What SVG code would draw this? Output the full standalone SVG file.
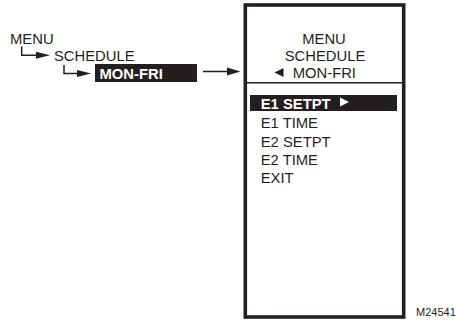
<svg xmlns="http://www.w3.org/2000/svg" width="458" height="322" viewBox="0 0 458 322">
<style>
.t{font-family:"Liberation Sans",Arial,sans-serif;font-size:14.8px;fill:#231f20}
.b{font-family:"Liberation Sans",Arial,sans-serif;font-size:14.8px;font-weight:bold;fill:#fff}
.ln{stroke:#231f20;stroke-width:1.5;fill:none}
.ah{fill:#231f20;stroke:none}
</style>
<rect width="458" height="322" fill="#fff"/>
<g id="nav-menu"><text class="t" x="10" y="43.5">MENU</text></g>
<g id="nav-schedule"><text class="t" x="54" y="61">SCHEDULE</text></g>
<g id="nav-monfri">
<rect x="95" y="64" width="102" height="18" fill="#231f20"/>
<text class="b" x="99.5" y="79">MON-FRI</text>
</g>
<g id="panel">
<rect x="245.3" y="5" width="158.4" height="312" fill="none" stroke="#231f20" stroke-width="3.6"/>
<text class="t" x="324" y="43.8" text-anchor="middle">MENU</text>
<text class="t" x="325" y="60.8" text-anchor="middle">SCHEDULE</text>
<polygon class="ah" points="274.5,72.5 283.5,68 283.5,77"/>
<text class="t" x="292.7" y="77.8">MON-FRI</text>
<line class="ln" x1="247" y1="82.7" x2="402" y2="82.7"/>
<rect x="250" y="95" width="147" height="16" fill="#231f20"/>
<text class="b" x="260.7" y="109">E1 SETPT</text>
<polygon points="340,97.5 349,102 340,106.5" fill="#fff"/>
<text class="t" x="260.7" y="128.3">E1 TIME</text>
<text class="t" x="260.7" y="146.8">E2 SETPT</text>
<text class="t" x="260.7" y="165">E2 TIME</text>
<text class="t" x="260.7" y="183">EXIT</text>
</g>
<g id="connectors">
<polyline class="ln" points="21.7,46.5 21.7,55.3 38,55.3"/>
<polygon class="ah" points="36,51.8 50,55.3 36,58.8"/>
<polyline class="ln" points="64,65 64,73.5 79,73.5"/>
<polygon class="ah" points="77,70 91,73.5 77,77"/>
<line class="ln" x1="203" y1="71.5" x2="229" y2="71.5"/>
<polygon class="ah" points="227,67.5 240.5,71.5 227,75.5"/>
</g>
<text class="t" x="416" y="316" style="font-size:11px">M24541</text>
</svg>
